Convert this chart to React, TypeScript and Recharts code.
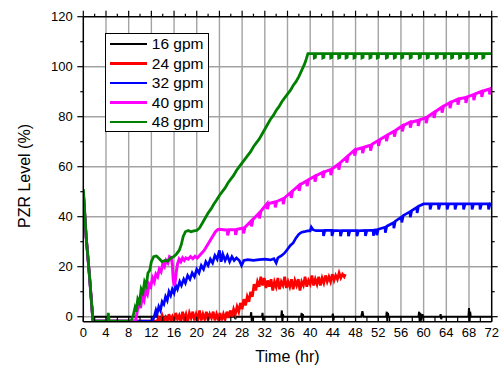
import React from 'react';
import { LineChart, Line, XAxis, YAxis, ReferenceLine, Legend, Label } from 'recharts';

const FONT = '"Liberation Sans", Arial, Helvetica, sans-serif';

const xTicks = [0, 2, 4, 6, 8, 10, 12, 14, 16, 18, 20, 22, 24, 26, 28, 30, 32, 34, 36, 38, 40, 42, 44, 46, 48, 50, 52, 54, 56, 58, 60, 62, 64, 66, 68, 70, 72];
const xLabelTicks = [0, 4, 8, 12, 16, 20, 24, 28, 32, 36, 40, 44, 48, 52, 56, 60, 64, 68, 72];
const yTicks = [0, 10, 20, 30, 40, 50, 60, 70, 80, 90, 100, 110, 120];
const yLabelTicks = [0, 20, 40, 60, 80, 100, 120];
const xGrid = [4, 8, 12, 16, 20, 24, 28, 32, 36, 40, 44, 48, 52, 56, 60, 64, 68];
const yGrid = [0, 20, 40, 60, 80, 100];

const seriesNames = ['16 gpm', '24 gpm', '32 gpm', '40 gpm', '48 gpm'];
const seriesColors = ['#000000', '#ff0000', '#0000ff', '#ff00ff', '#008000'];
const seriesWidths = [2, 2.7, 2.7, 3, 2.8];

const gpm16 = [
  [0, 50], [0.5, 32], [1.1, 16], [1.7, 0], [21.9, 0], [22, 1.2], [22.1, 0], [26.6, 0], [26.7, 1], [26.8, -1], [26.9, 0],
  [29.5, 0], [29.6, 1.8], [29.7, -1.8], [29.8, 0], [31.5, 0], [31.6, 1.5], [31.7, -1.5], [31.8, 0],
  [34.9, 0], [35.0, 2.5], [35.1, -1.8], [35.2, 1], [35.3, 0], [38.4, 0], [38.5, 1.5], [38.6, -2], [38.7, 1], [38.8, 0],
  [43.9, 0], [44.0, 1.2], [44.1, -1.5], [44.2, 0], [49.0, 0], [49.2, 2.2], [49.4, 0],
  [53.4, 0], [53.5, 2], [53.6, -2], [53.7, 1.5], [53.8, 0], [59.1, 0], [59.2, 2], [59.3, -1.8], [59.4, 1.5], [59.6, -1.5], [59.8, 1], [59.9, 0],
  [62.9, 0], [63.0, 1], [63.1, -1], [63.2, 0], [67.9, 0], [68.0, 3.5], [68.1, -2], [68.2, 2], [68.3, 0], [72, 0],
];

const gpm24 = [
  [0, 50], [0.5, 32], [1.1, 16], [1.7, -1.8], [13.0, -1.8],
  [13.3, -0.5], [13.6, -2], [13.9, 0.5], [14.2, -1.5], [14.5, -0.2], [14.8, -2], [15.1, 1], [15.4, -1.5], [15.7, 0], [16.0, -2],
  [16.3, 1.5], [16.6, -1], [16.9, 0.5], [17.2, -2], [17.5, 2], [17.8, -1], [18.1, 1], [18.4, -2], [18.7, 1.5], [19.0, -0.5],
  [19.3, 2], [19.6, -1.5], [19.9, 1], [20.2, -1], [20.5, 2.5], [20.8, -1.5], [21.1, 1], [21.4, -1], [21.7, 2], [22.0, -1.5],
  [22.3, 1], [22.6, -0.5], [22.9, 2], [23.2, -1.5], [23.5, 1], [23.8, -1], [24.1, 1.5], [24.4, -1.5], [24.7, 1], [25.0, -1],
  [25.3, 2], [25.6, -0.5], [25.9, 2.5], [26.2, 0], [26.5, 3], [26.8, 1], [27.1, 4], [27.4, 2], [27.7, 5.5], [28.0, 3],
  [28.3, 7], [28.6, 4.5], [28.9, 8], [29.2, 6], [29.5, 10], [29.8, 8], [30.1, 13], [30.4, 10.5], [30.7, 14], [31.0, 12],
  [31.3, 16], [31.6, 12.5], [31.9, 15.5], [32.2, 11.5], [32.5, 14.5], [32.8, 12], [33.1, 15], [33.4, 10.5], [33.7, 14], [34.0, 12],
  [34.3, 15.5], [34.6, 11], [34.9, 14], [35.2, 12.5], [35.5, 16], [35.8, 11.5], [36.1, 14], [36.4, 12], [36.7, 15], [37.0, 11],
  [37.3, 14.5], [37.6, 12.5], [37.9, 15], [38.2, 10.5], [38.5, 14], [38.8, 12.5], [39.1, 16], [39.4, 12], [39.7, 14.5], [40.0, 13],
  [40.3, 16.5], [40.6, 12.5], [40.9, 15], [41.2, 13], [41.5, 16], [41.8, 12.5], [42.1, 15.5], [42.4, 13.5], [42.7, 16.5], [43.0, 14],
  [43.3, 16], [43.6, 14], [43.9, 17], [44.2, 14.5], [44.5, 16.5], [44.8, 15], [45.1, 17.5], [45.4, 15.5], [45.7, 17], [46.0, 16], [46.2, 17],
];

const gpm32 = [
  [0, 50], [0.5, 32], [1.1, 16], [1.7, -1.8], [12.2, -1.8], [12.5, 0], [12.8, 2.5], [13.0, 1], [13.3, 4], [13.6, 2.5],
  [13.9, 6], [14.2, 5], [14.5, 8], [14.8, 6.5], [15.1, 10], [15.4, 8.5], [15.7, 11], [16.0, 9.5], [16.3, 12.5], [16.6, 11],
  [17.0, 14], [17.3, 12.5], [17.7, 15], [18.0, 13.5], [18.4, 16.5], [18.8, 15], [19.2, 17.5], [19.6, 16], [20.0, 19], [20.4, 17.5],
  [20.8, 20.5], [21.2, 19], [21.6, 22], [22.0, 20.5], [22.4, 23], [22.8, 21.5], [23.2, 24.5], [23.6, 23], [24.0, 26.5], [24.3, 22],
  [24.6, 25], [25.0, 22.5], [25.4, 24.5], [25.8, 22], [26.2, 24], [26.6, 22.5], [27.0, 23.5], [27.5, 22.5], [27.9, 20.5], [28.3, 22.5],
  [29.0, 22.8], [30.0, 22.5], [31.0, 22.8], [32.0, 23], [33.0, 22.7], [33.6, 23.2], [34.0, 21.5], [34.3, 23.5], [35.0, 24.5],
  [35.5, 25.5], [36.0, 27], [36.5, 28.5], [37.0, 29.5], [37.5, 31.5], [38.0, 33], [38.5, 33.8], [39.0, 34], [39.5, 34.3],
  [40.0, 34.3], [40.2, 35.8], [40.5, 34.8], [41.0, 34.4],
  [42.3, 34.5], [42.35, 32.3], [42.6, 34.5], [43.8, 34.5], [43.85, 32.3], [44.1, 34.5], [45.3, 34.4], [45.35, 32.2], [45.6, 34.4],
  [46.7, 34.4], [46.75, 32.2], [47.0, 34.4], [48.2, 34.4], [48.25, 32.2], [48.5, 34.4], [49.7, 34.5], [49.75, 32.3], [50.0, 34.5],
  [51.1, 34.6], [51.15, 32.4], [51.4, 34.7], [51.7, 34.8], [51.75, 32.6], [52.0, 35],
  [53.2, 35.8], [53.25, 33.6], [53.5, 36.2], [54.7, 37.6], [54.75, 35.4], [55.0, 38.2], [56.1, 39.9], [56.15, 37.7], [56.4, 40.4],
  [57.6, 42], [57.65, 39.8], [57.9, 42.4], [58.8, 43.7], [58.85, 41.5], [59.1, 44.2], [60.0, 45.1],
  [61.1, 45.1], [61.15, 42.9], [61.4, 45.1], [62.6, 45.1], [62.65, 42.9], [62.9, 45.1], [64.1, 45.1], [64.15, 42.9], [64.4, 45.1],
  [65.5, 45.1], [65.55, 42.9], [65.8, 45.1], [67.0, 45.1], [67.05, 42.9], [67.3, 45.1], [68.5, 45.1], [68.55, 42.9], [68.8, 45.1],
  [69.9, 45.1], [69.95, 42.9], [70.2, 45.1], [71.4, 45.1], [71.45, 42.9], [71.7, 45.1], [72, 44.8],
];

const gpm40 = [
  [0, 50], [0.5, 32], [1.1, 16], [1.7, -1.8], [9.2, -1.8], [9.5, 2], [9.8, 5.5], [10.1, 3.5], [10.4, 8], [10.7, 6.5],
  [11.0, 10.5], [11.3, 9], [11.6, 13], [11.9, 12], [12.2, 15.5], [12.5, 14], [12.8, 17], [13.1, 16], [13.4, 19], [13.7, 18],
  [14.0, 21], [14.3, 20], [14.6, 22.5], [14.9, 21.5], [15.2, 24], [15.5, 23.5], [15.7, 21], [15.85, 15], [16.0, 12.5], [16.2, 14],
  [16.4, 18], [16.6, 21], [16.9, 23], [17.2, 22], [17.5, 23.5], [17.8, 22.5], [18.1, 23.5], [18.5, 23], [18.9, 24], [19.3, 23.2],
  [19.7, 24.2], [20.1, 23.5], [20.5, 24.5], [20.9, 25.5], [21.3, 26.5], [21.7, 28], [22.1, 29.5], [22.5, 31], [22.9, 32.5],
  [23.3, 34], [23.7, 34.8], [24.0, 35],
  [25.4, 34.6], [25.45, 32.5], [25.7, 34.8], [26.8, 34.9], [26.85, 32.7], [27.1, 35], [28.2, 35.5], [28.25, 33.3], [28.5, 35.8],
  [29.6, 38.3], [29.65, 36.1], [29.9, 38.9], [31.0, 41.5], [31.05, 39.3], [31.3, 42.2], [32.4, 45.2], [32.45, 43], [32.7, 45.3],
  [33.8, 45.9], [33.85, 43.7], [34.1, 46.1], [35.2, 47.2], [35.25, 45], [35.5, 47.6], [36.6, 49.7], [36.65, 47.5], [36.9, 50.3],
  [38.0, 52.5], [38.05, 50.3], [38.3, 52.9], [39.4, 54.4], [39.45, 52.2], [39.7, 54.8], [40.8, 56.2], [40.85, 54], [41.1, 56.5],
  [42.2, 57.7], [42.25, 55.5], [42.5, 57.9], [43.6, 58.8], [43.65, 56.6], [43.9, 59.2], [45.0, 61], [45.05, 58.8], [45.3, 61.6],
  [46.4, 63.8], [46.45, 61.6], [46.7, 64.4], [47.8, 66.6], [47.85, 64.4], [48.1, 66.9], [49.2, 67.6], [49.25, 65.4], [49.5, 67.8],
  [50.6, 68.6], [50.65, 66.4], [50.9, 69], [52.0, 70.5], [52.05, 68.3], [52.3, 70.9], [53.4, 72.4], [53.45, 70.2], [53.7, 72.8],
  [54.8, 74.2], [54.85, 72], [55.1, 74.6], [56.2, 76.3], [56.25, 74.1], [56.5, 76.6], [57.6, 77.8], [57.65, 75.6], [57.9, 77.9],
  [59.0, 78.5], [59.05, 76.3], [59.3, 78.7], [60.4, 79.6], [60.45, 77.4], [60.7, 80], [61.8, 81.7], [61.85, 79.5], [62.1, 82.1],
  [63.2, 83.8], [63.25, 81.6], [63.5, 84.2], [64.6, 85.6], [64.65, 83.4], [64.9, 85.9], [66.0, 87], [66.05, 84.8], [66.3, 87.2],
  [67.4, 87.7], [67.45, 85.5], [67.7, 87.9], [68.8, 88.8], [68.85, 86.6], [69.1, 89.1], [70.2, 90.1], [70.25, 87.9], [70.5, 90.3],
  [71.6, 91.1], [71.65, 88.9], [71.9, 91.4], [72, 91.5],
];

const gpm48 = [
  [0, 51], [0.25, 42], [0.5, 32], [0.8, 24], [1.1, 16], [1.4, 7], [1.7, -1.8], [4.3, -1.8], [4.4, 1.5], [4.55, -1.8], [8.4, -1.8],
  [8.8, 0.5], [9.1, 3.5], [9.3, 2], [9.6, 7], [9.9, 5.5], [10.2, 11], [10.5, 9.5], [10.8, 14], [11.1, 12.5], [11.4, 17.5],
  [11.7, 18.5], [12.0, 22], [12.4, 24], [12.9, 24.3], [13.4, 23.2], [13.9, 22], [14.4, 22.5], [14.9, 22.2], [15.4, 23.5], [15.9, 24],
  [16.4, 25], [16.9, 26.5], [17.3, 29], [17.6, 32], [18.0, 34], [18.5, 34.5], [19.0, 34], [19.5, 34.3], [20.0, 34.5], [20.5, 35.5],
  [21.0, 37.5], [21.5, 39.5], [22.0, 41.5], [22.5, 43], [23.0, 45], [23.5, 46.7], [24.0, 48.5], [24.5, 50], [25.0, 51.5],
  [25.5, 53.5], [26.0, 55], [26.5, 56.5], [27.0, 58.5], [27.5, 60], [28.0, 61.5], [28.5, 63], [29.0, 64.5], [29.5, 66], [30.0, 68],
  [30.5, 69.5], [31.0, 71], [31.5, 73], [32.0, 75], [32.5, 77], [33.0, 79], [33.5, 80.5], [34.0, 82.5], [34.5, 84], [35.0, 86],
  [35.5, 87.5], [36.0, 89], [36.5, 90.5], [37.0, 92.5], [37.5, 94], [38.0, 96], [38.5, 98.5], [39.0, 101], [39.3, 103], [39.6, 105.2],
  [40.7, 105.2], [40.73, 103.5], [40.92, 103.7], [40.95, 105.2], [42.2, 105.2], [42.23, 103.5], [42.42, 103.7], [42.45, 105.2],
  [43.6, 105.2], [43.63, 103.5], [43.82, 103.7], [43.85, 105.2], [45.0, 105.2], [45.03, 103.5], [45.22, 103.7], [45.25, 105.2],
  [46.3, 105.2], [46.33, 103.5], [46.52, 103.7], [46.55, 105.2], [47.7, 105.2], [47.73, 103.5], [47.92, 103.7], [47.95, 105.2],
  [49.1, 105.2], [49.13, 103.5], [49.32, 103.7], [49.35, 105.2], [50.5, 105.2], [50.53, 103.5], [50.72, 103.7], [50.75, 105.2],
  [51.8, 105.2], [51.83, 103.5], [52.02, 103.7], [52.05, 105.2], [53.4, 105.2], [53.43, 103.5], [53.62, 103.7], [53.65, 105.2],
  [54.8, 105.2], [54.83, 103.5], [55.02, 103.7], [55.05, 105.2], [56.1, 105.2], [56.13, 103.5], [56.32, 103.7], [56.35, 105.2],
  [57.6, 105.2], [57.63, 103.5], [57.82, 103.7], [57.85, 105.2], [59.2, 105.2], [59.23, 103.5], [59.42, 103.7], [59.45, 105.2],
  [60.6, 105.2], [60.63, 103.5], [60.82, 103.7], [60.85, 105.2], [62.2, 105.2], [62.23, 103.5], [62.42, 103.7], [62.45, 105.2],
  [63.6, 105.2], [63.63, 103.5], [63.82, 103.7], [63.85, 105.2], [64.9, 105.2], [64.93, 103.5], [65.12, 103.7], [65.15, 105.2],
  [66.3, 105.2], [66.33, 103.5], [66.52, 103.7], [66.55, 105.2], [67.6, 105.2], [67.63, 103.5], [67.82, 103.7], [67.85, 105.2],
  [69.1, 105.2], [69.13, 103.5], [69.32, 103.7], [69.35, 105.2], [70.4, 105.2], [70.43, 103.5], [70.62, 103.7], [70.65, 105.2],
  [72, 105.2],
];

const seriesData = [gpm16, gpm24, gpm32, gpm40, gpm48];
const toPts = (arr: number[][]) => arr.map(([t, v]) => ({ t, v }));

const GRID = '#a3a3a3';

const BottomTick = (props: any) => {
  const { x, y, payload } = props;
  const v = payload.value;
  return (
    <g>
      <line x1={x} x2={x} y1={y} y2={y - 5} stroke="#000" strokeWidth={1.2} />
      {xLabelTicks.includes(v) && (
        <text x={x} y={y + 15.5} textAnchor="middle" fontSize={13} fontFamily={FONT} fill="#000">{v}</text>
      )}
    </g>
  );
};

const TopTick = (props: any) => {
  const { x, y, payload } = props;
  const major = xLabelTicks.includes(payload.value);
  return <line x1={x} x2={x} y1={y} y2={y - (major ? 6 : 3)} stroke="#000" strokeWidth={1.2} />;
};

const LeftTick = (props: any) => {
  const { x, y, payload } = props;
  const v = payload.value;
  const major = yLabelTicks.includes(v);
  return (
    <g>
      <line x1={x} x2={x - (major ? 6 : 3)} y1={y} y2={y} stroke="#000" strokeWidth={1.2} />
      {major && (
        <text x={x - 10.5} y={y + 4.6} textAnchor="end" fontSize={13} fontFamily={FONT} fill="#000">{v}</text>
      )}
    </g>
  );
};

const RightTick = (props: any) => {
  const { x, y, payload } = props;
  const major = yLabelTicks.includes(payload.value);
  return <line x1={x} x2={x + (major ? 6 : 3)} y1={y} y2={y} stroke="#000" strokeWidth={1.2} />;
};

const renderLegend = () => (
  <div
    style={{
      boxSizing: 'border-box',
      width: 104,
      height: 99,
      border: '1.3px solid #000',
      background: '#fff',
      fontFamily: FONT,
    }}
  >
    {seriesNames.map((n, i) => (
      <div key={n} style={{ display: 'flex', alignItems: 'center', height: 19.6 }}>
        <div style={{ marginLeft: 4.2, width: 37, height: 2.5, background: seriesColors[i] }} />
        <span style={{ marginLeft: 4.6, fontSize: 15.5, lineHeight: '19.6px', color: '#000', whiteSpace: 'nowrap' }}>{n}</span>
      </div>
    ))}
  </div>
);

export default function App() {
  return (
    <div style={{ position: 'absolute', left: 0, top: 0, width: 501, height: 367, background: '#fff' }}>
      <LineChart
        width={501}
        height={367}
        margin={{ top: 10.7, right: 3.3, left: 43.3, bottom: 15.3 }}
      >
        <XAxis
          dataKey="t"
          type="number"
          domain={[0, 72]}
          ticks={xTicks}
          interval={0}
          allowDataOverflow
          height={30}
          tickSize={0}
          tickMargin={0}
          tickLine={false}
          tick={<BottomTick />}
          axisLine={{ stroke: '#000', strokeWidth: 1.5 }}
        >
          <Label
            content={() => (
              <text x={287.5} y={361.5} textAnchor="middle" fontSize={16} fontFamily={FONT} fill="#000">Time (hr)</text>
            )}
          />
        </XAxis>
        <XAxis
          xAxisId="top"
          orientation="top"
          dataKey="t"
          type="number"
          domain={[0, 72]}
          ticks={xTicks}
          interval={0}
          allowDataOverflow
          height={6}
          tickSize={0}
          tickMargin={0}
          tickLine={false}
          tick={<TopTick />}
          axisLine={{ stroke: '#000', strokeWidth: 1.5 }}
        />
        <YAxis
          type="number"
          domain={[-2, 120]}
          ticks={yTicks}
          interval={0}
          allowDataOverflow
          width={40}
          tickSize={0}
          tickMargin={0}
          tickLine={false}
          tick={<LeftTick />}
          axisLine={{ stroke: '#000', strokeWidth: 1.5 }}
        >
          <Label
            content={() => (
              <text
                x={24.5}
                y={176}
                transform="rotate(-90 24.5 176)"
                textAnchor="middle"
                dominantBaseline="central"
                fontSize={16}
                fontFamily={FONT}
                fill="#000"
              >
                PZR Level (%)
              </text>
            )}
          />
        </YAxis>
        <YAxis
          yAxisId="right"
          orientation="right"
          type="number"
          domain={[-2, 120]}
          ticks={yTicks}
          interval={0}
          allowDataOverflow
          width={6}
          tickSize={0}
          tickMargin={0}
          tickLine={false}
          tick={<RightTick />}
          axisLine={{ stroke: '#000', strokeWidth: 1.5 }}
        />
        {xGrid.map((g) => (
          <ReferenceLine key={'gx' + g} x={g} stroke={GRID} strokeWidth={1.4} />
        ))}
        {yGrid.map((g) => (
          <ReferenceLine key={'gy' + g} y={g} stroke={GRID} strokeWidth={1.4} />
        ))}
        {seriesData.map((d, i) => (
          <Line
            key={seriesNames[i]}
            data={toPts(d)}
            dataKey="v"
            name={seriesNames[i]}
            type="linear"
            stroke={seriesColors[i]}
            strokeWidth={seriesWidths[i]}
            dot={false}
            activeDot={false}
            isAnimationActive={false}
          />
        ))}
        <Legend
          layout="horizontal"
          verticalAlign="middle"
          align="center"
          content={renderLegend}
          wrapperStyle={{ position: 'absolute', left: 105, top: 33, width: 104, height: 99 }}
        />
      </LineChart>
    </div>
  );
}
